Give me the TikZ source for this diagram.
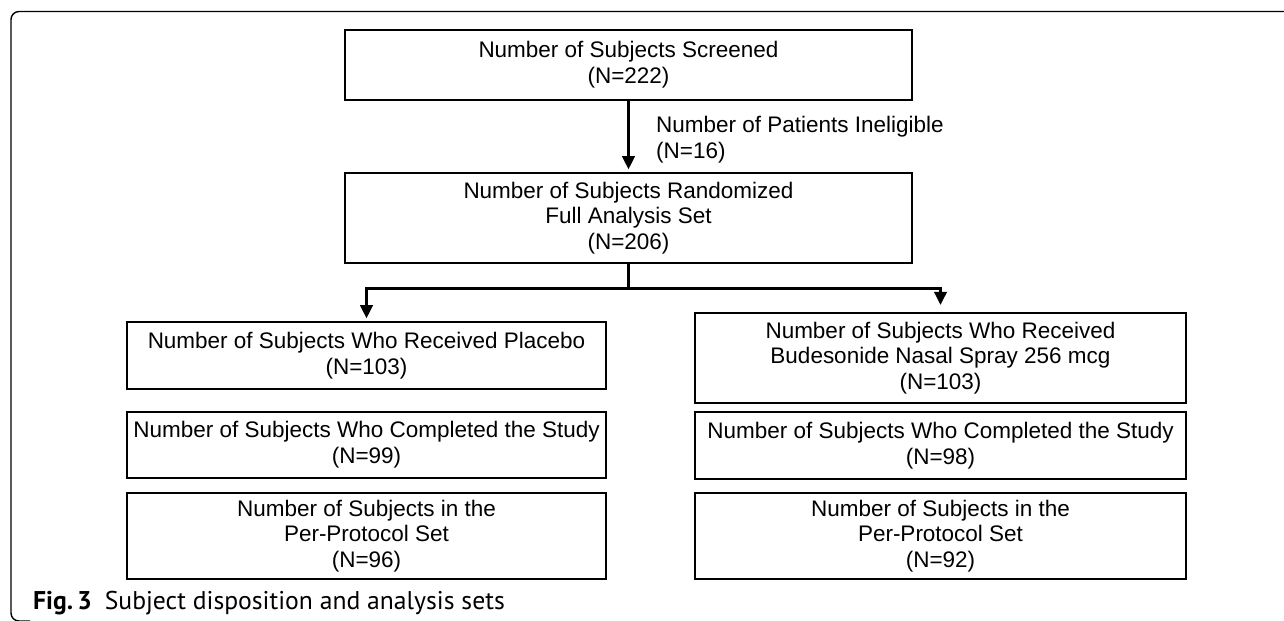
\documentclass[tikz,border=0pt]{standalone}
\usepackage{fontspec}
\setmainfont{Liberation Sans}
\newfontfamily\capfont{PT Sans}
\usetikzlibrary{arrows.meta}

\begin{document}
\begin{tikzpicture}[
  x=0.02cm,y=-0.02cm,
  font=\fontsize{12.8}{14.7}\selectfont,
  >={Triangle[length=7.5pt,width=7pt]},
  box/.style={draw=black, line width=1.1pt, align=center, inner sep=0pt},
  wide/.style={box, minimum width=567*0.02cm},
  lbox/.style={box, minimum width=479*0.02cm},
  rbox/.style={box, minimum width=491*0.02cm},
  arr/.style={->, line width=1.7pt, shorten >=1.5pt},
  note/.style={align=left, anchor=west},
  frame/.style={line width=0.8pt, rounded corners=8*0.02cm}
]
  \useasboundingbox (0,0) rectangle (1284,620);
  \draw[frame] (1290,11.5) -- (11,11.5) -- (11,621) -- (30,621);

  \node[wide, minimum height=70*0.02cm] (screen) at (628.5,65) {Number of Subjects Screened\\(N=222)};
  \node[wide, minimum height=90*0.02cm] (rand) at (628.5,218) {Number of Subjects Randomized\\Full Analysis Set\\(N=206)};

  \node[lbox, minimum height=67*0.02cm] (plac) at (366.5,355.5) {Number of Subjects Who Received Placebo\\(N=103)};
  \node[lbox, minimum height=66*0.02cm] (placdone) at (366.5,445) {Number of Subjects Who Completed the Study\\(N=99)};
  \node[lbox, minimum height=86*0.02cm] (placpp) at (366.5,536) {Number of Subjects in the\\Per-Protocol Set\\(N=96)};

  \node[rbox, minimum height=90*0.02cm] (bud) at (940.5,358) {Number of Subjects Who Received\\Budesonide Nasal Spray 256 mcg\\(N=103)};
  \node[rbox, minimum height=67*0.02cm] (buddone) at (940.5,445.5) {Number of Subjects Who Completed the Study\\(N=98)};
  \node[rbox, minimum height=86*0.02cm] (budpp) at (940.5,536) {Number of Subjects in the\\Per-Protocol Set\\(N=92)};

  \draw[arr] (screen.south) -- (rand.north);
  \node[note] (inel) at (650,139.5) {Number of Patients Ineligible\\(N=16)};

  \coordinate (fork) at (628.5,288);
  \draw[line width=1.7pt] (rand.south) -- (fork);
  \draw[arr] (fork) -| (plac.north);
  \draw[arr, shorten >=4pt] (fork) -| (bud.north);

  \node[anchor=base west, font=\capfont\fontsize{14.6}{16}\selectfont] (cap) at (27,609)
    {\textbf{Fig.\,3}\hspace{0.5em}Subject disposition and analysis sets};
\end{tikzpicture}
\end{document}
